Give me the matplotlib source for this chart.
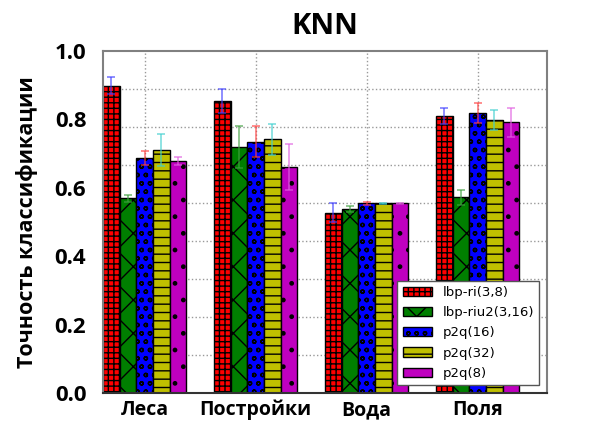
import numpy as np
import matplotlib
matplotlib.use("Agg")
import matplotlib.pyplot as plt

# data
categories = ["Леса", "Постройки", "Вода", "Поля"]
methods = ["lbp-ri(3,8)", "lbp-riu2(3,16)", "p2q(16)", "p2q(32)", "p2q(8)"]

lbp_ri = [0.899, 0.854, 0.527, 0.810]
lbp_riu2 = [0.569, 0.720, 0.538, 0.572]
p2q_16 = [0.688, 0.735, 0.555, 0.819]
p2q_32 = [0.711, 0.742, 0.555, 0.798]
p2q_8 = [0.679, 0.662, 0.555, 0.791]

lbp_ri_err = [0.026, 0.034, 0.028, 0.024]
lbp_riu2_err = [0.010, 0.062, 0.010, 0.022]
p2q_16_err = [0.020, 0.046, 0.004, 0.030]
p2q_32_err = [0.047, 0.046, 0.002, 0.029]
p2q_8_err = [0.012, 0.067, 0.002, 0.043]

bar_colors = ["#ff0000", "#007f00", "#0000ff", "#bfbf00", "#bf00bf"]
err_colors = ["#4040ff", "#40a040", "#ff4040", "#40d0d0", "#e060e0"]
hatches = ["+++", "x", "oo", "--", "."]

plt.rcParams["hatch.linewidth"] = 1.0
font_main = ["Open Sans", "DejaVu Sans"]


def plot_knn():
    values = [lbp_ri, lbp_riu2, p2q_16, p2q_32, p2q_8]
    errors = [lbp_ri_err, lbp_riu2_err, p2q_16_err, p2q_32_err, p2q_8_err]
    ind = np.arange(len(categories))
    width = 0.15

    fig = plt.figure(figsize=(5.9, 4.23), dpi=100)
    ax = fig.add_axes([0.1746, 0.0709, 0.7525, 0.8085])

    for i in range(len(methods)):
        ax.bar(ind + i * width, values[i], width, align="edge",
               color=bar_colors[i], edgecolor="black", linewidth=1.0,
               hatch=hatches[i], label=methods[i], zorder=2)
        ax.errorbar(ind + i * width + width / 2, values[i], yerr=errors[i],
                    fmt="none", ecolor=err_colors[i], elinewidth=1.1,
                    capsize=3, capthick=1.1, alpha=0.75, zorder=3)

    ax.set_xlim(0, 4)
    ax.set_ylim(0, 1.0)
    ax.set_xticks(ind + 0.375)
    ax.set_xticklabels(categories, family=font_main, fontsize=14, fontweight="bold")
    ax.set_yticks(np.arange(0, 1.01, 0.2))
    ax.set_yticklabels(["0.0", "0.2", "0.4", "0.6", "0.8", "1.0"],
                       family=font_main, fontsize=16, fontweight="bold")
    ax.set_yticks(np.arange(1, 9) / 9.0, minor=True)
    ax.tick_params(axis="both", which="both", length=0)
    ax.tick_params(axis="y", pad=12)
    ax.tick_params(axis="x", pad=5)

    ax.set_axisbelow(True)
    ax.grid(False)
    ax.yaxis.grid(True, which="minor", linestyle=":", color="#999999", linewidth=1.0)
    ax.xaxis.grid(True, which="major", linestyle=":", color="#999999", linewidth=1.0)

    for side in ["top", "right", "left"]:
        ax.spines[side].set_color("#808080")
        ax.spines[side].set_linewidth(1.5)
    ax.spines["bottom"].set_color("#333333")
    ax.spines["bottom"].set_linewidth(1.5)

    ax.set_ylabel("Точность классификации", family=font_main, fontsize=15.5,
                  fontweight="bold", labelpad=12)
    ax.set_title("KNN", family=font_main, fontsize=21, fontweight="bold", pad=12)

    leg = ax.legend(loc="lower right", fontsize=9.5, fancybox=False,
                    framealpha=1, edgecolor="#555555", borderaxespad=0.6,
                    handlelength=2.2, labelspacing=0.55)
    leg.get_frame().set_linewidth(1.0)

    fig.savefig("out.png", dpi=100)


if __name__ == "__main__":
    plot_knn()
